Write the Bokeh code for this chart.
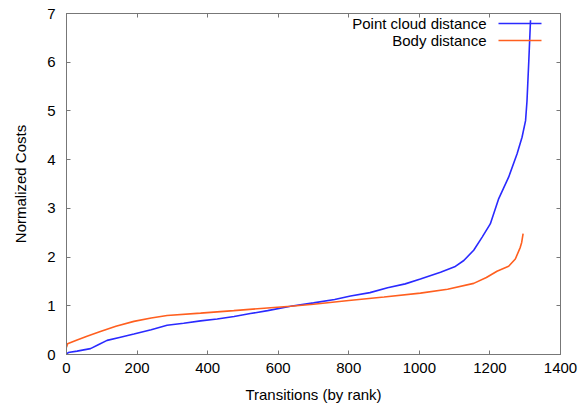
from bokeh.plotting import figure
from bokeh.models import LinearAxis, Range1d, Label, Arrow, FixedTicker
from bokeh.embed import file_html
from bokeh.resources import INLINE

# Data
cloud_rank = [0, 5, 30, 68, 90, 115, 150, 191, 240, 285, 332, 380, 427, 475, 521, 570, 635,
              700, 760, 805, 860, 910, 960, 1003, 1060, 1100, 1126, 1154, 1178, 1201, 1225,
              1253, 1277, 1291, 1301, 1305, 1310, 1315]
cloud_cost = [0.01, 0.04, 0.07, 0.12, 0.2, 0.29, 0.35, 0.42, 0.51, 0.60, 0.64, 0.69, 0.73, 0.78,
              0.84, 0.90, 0.99, 1.06, 1.13, 1.20, 1.27, 1.37, 1.45, 1.55, 1.69, 1.80, 1.93, 2.14,
              2.41, 2.68, 3.2, 3.64, 4.12, 4.46, 4.8, 5.2, 6.0, 6.86]
body_rank = [0, 3, 30, 60, 96, 140, 191, 240, 285, 380, 474, 560, 635, 700, 800, 900, 1003,
             1080, 1154, 1190, 1220, 1253, 1272, 1286, 1290, 1294]
body_cost = [0.15, 0.22, 0.3, 0.38, 0.47, 0.58, 0.68, 0.75, 0.80, 0.85, 0.90, 0.95, 0.99, 1.03,
             1.11, 1.18, 1.26, 1.34, 1.46, 1.58, 1.71, 1.81, 1.96, 2.2, 2.3, 2.48]
series_names = ["Point cloud distance", "Body distance"]
x_ticks = [0, 200, 400, 600, 800, 1000, 1200, 1400]
y_ticks = [0, 1, 2, 3, 4, 5, 6, 7]

BLUE = "#2a2aff"
ORANGE = "#ff5f1f"
FONT = "Liberation Sans"
FS = "15px"
GRAY = "#777777"

p = figure(width=581, height=407, output_backend="svg", toolbar_location=None,
           x_range=Range1d(0, 1400), y_range=Range1d(0, 7),
           min_border_left=66, min_border_right=21, min_border_top=13, min_border_bottom=53)
p.grid.visible = False
p.outline_line_color = GRAY
p.outline_line_width = 1
p.background_fill_color = "white"
p.border_fill_color = "white"

p.line(cloud_rank, cloud_cost, line_color=BLUE, line_width=1.6)
p.line(body_rank, body_cost, line_color=ORANGE, line_width=1.6)

def style(ax, labels=True):
    ax.axis_line_color = GRAY
    ax.major_tick_line_color = GRAY
    ax.major_tick_in = 4
    ax.major_tick_out = 0
    ax.minor_tick_line_color = None
    ax.major_label_text_font = FONT
    ax.major_label_text_font_size = FS
    ax.major_label_text_color = "black"
    ax.axis_label_text_font = FONT
    ax.axis_label_text_font_size = FS
    ax.axis_label_text_font_style = "normal"
    ax.axis_label_text_color = "black"
    if not labels:
        ax.major_label_text_font_size = "0px"
        ax.major_label_text_color = None

p.xaxis.ticker = FixedTicker(ticks=x_ticks)
p.yaxis.ticker = FixedTicker(ticks=y_ticks)
style(p.xaxis[0])
style(p.yaxis[0])
p.xaxis.axis_label = "Transitions (by rank)"
p.yaxis.axis_label = "Normalized Costs"
p.xaxis.major_label_standoff = 8
p.yaxis.major_label_standoff = 11
p.xaxis.axis_label_standoff = 10
p.yaxis.axis_label_standoff = 15

top = LinearAxis(ticker=FixedTicker(ticks=x_ticks))
right = LinearAxis(ticker=FixedTicker(ticks=y_ticks))
style(top, labels=False)
style(right, labels=False)
p.add_layout(top, "above")
p.add_layout(right, "right")

# Legend (text right-aligned, sample on the right); screen units relative to the frame
FRAME_LEFT, FRAME_BOTTOM = 66, 354
legend_rows = [(series_names[0], BLUE, 23), (series_names[1], ORANGE, 40)]
for name, col, ypix in legend_rows:
    sy = FRAME_BOTTOM - ypix
    p.add_layout(Label(x=486 - FRAME_LEFT, y=sy, x_units="screen", y_units="screen", text=name,
                       text_align="right", text_baseline="middle", text_font=FONT,
                       text_font_size=FS, text_color="black"))
    p.add_layout(Arrow(end=None, x_start=498 - FRAME_LEFT, y_start=sy,
                       x_end=541 - FRAME_LEFT, y_end=sy,
                       start_units="screen", end_units="screen",
                       line_color=col, line_width=1.6))

open("out.html", "w").write(file_html(p, INLINE))
